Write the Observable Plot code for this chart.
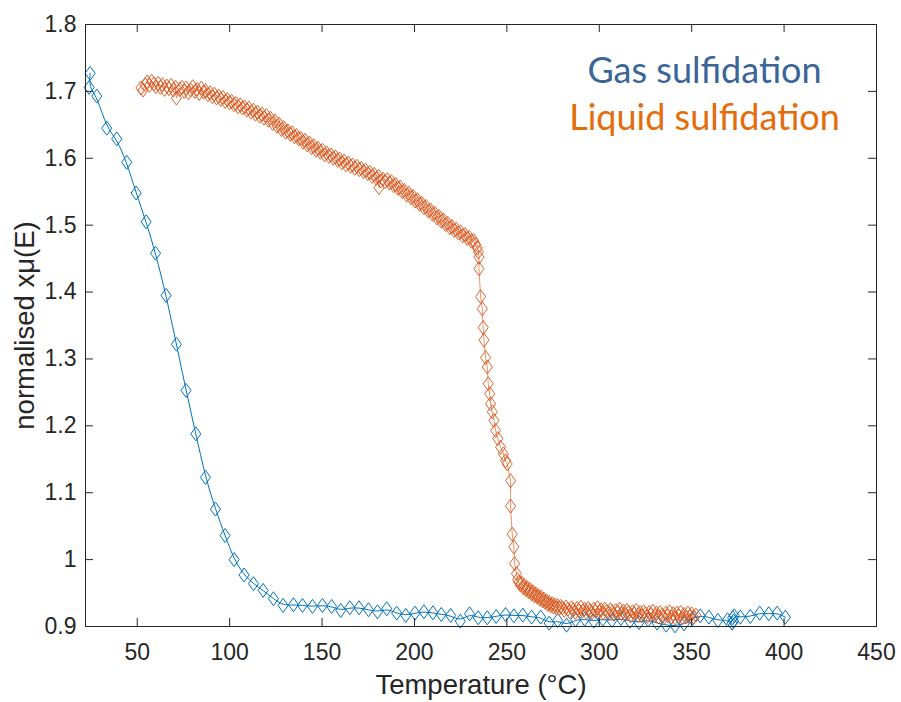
<!DOCTYPE html>
<html>
<head>
<meta charset="utf-8">
<script src="https://cdn.jsdelivr.net/npm/d3@7"></script>
<script src="https://cdn.jsdelivr.net/npm/@observablehq/plot@0.6"></script>
<style>
  html, body { margin: 0; padding: 0; background: #fff; }
  #chart svg { display: block; }
</style>
</head>
<body>
<div id="chart"></div>
<script>
// Gas sulfidation: temperature (°C) and normalised xμ(E)
const gasT = [24.5, 24.0, 28.1, 33.5, 38.9, 44.3, 49.4, 54.8, 59.9, 65.6, 71.2, 76.4, 81.7, 86.9, 92.3, 97.5,
  102.4, 107.8, 112.9, 118.1, 123.7, 128.9, 134.5, 139.4, 144.8, 150.2, 155.2, 160.1, 165.0, 170.0, 175.1,
  180.0, 185.0, 190.4, 195.3, 200.3, 205.1, 210.0, 214.5, 219.6, 224.8, 229.8, 234.5, 239.4, 244.2, 249.3,
  253.8, 258.6, 263.4, 268.3, 272.9, 277.5, 282.3, 287.2, 292.1, 297.0, 301.9, 306.8, 311.7, 316.6, 321.5,
  326.4, 331.3, 336.2, 341.0, 345.9, 350.4, 354.6, 359.3, 364.2, 369.4, 371.8, 372.2, 372.6, 373.0, 376.3,
  381.7, 386.8, 391.7, 396.2, 400.7];
const gasMu = [1.727, 1.706, 1.693, 1.645, 1.629, 1.594, 1.548, 1.505, 1.458, 1.395, 1.322, 1.253, 1.188, 1.123, 1.0755, 1.036,
  1.000, 0.977, 0.964, 0.954, 0.9415, 0.9315, 0.9325, 0.9315, 0.930, 0.9315, 0.930, 0.924, 0.928, 0.928, 0.925,
  0.922, 0.9265, 0.920, 0.9165, 0.920, 0.922, 0.9205, 0.918, 0.9165, 0.908, 0.919, 0.913, 0.913, 0.915, 0.918,
  0.916, 0.917, 0.914, 0.914, 0.905, 0.909, 0.902, 0.910, 0.911, 0.908, 0.911, 0.909, 0.912, 0.908, 0.906,
  0.910, 0.905, 0.902, 0.901, 0.904, 0.912, 0.916, 0.914, 0.909, 0.910, 0.905, 0.913, 0.908, 0.916, 0.914,
  0.915, 0.920, 0.919, 0.920, 0.914];

// Liquid sulfidation: temperature (°C) and normalised xμ(E)
const liqT = [52.0, 53.2, 54.3, 55.4, 56.6, 57.8, 59.0, 60.1, 61.3, 62.5, 63.6, 64.8, 66.0, 67.2, 68.3, 69.5,
  70.7, 71.2, 73.0, 74.2, 75.4, 76.5, 77.7, 78.9, 80.0, 81.2, 82.4, 83.5, 84.7, 85.9, 87.0, 88.2, 89.4, 90.6,
  91.7, 92.9, 94.1, 95.2, 96.4, 97.6, 98.8, 99.9, 101.1, 102.3, 103.4, 104.6, 105.8, 106.9, 108.1, 109.3,
  110.4, 111.6, 112.8, 114.0, 115.1, 116.3, 117.5, 118.6, 119.8, 121.0, 122.1, 123.3, 124.5, 125.6, 126.8,
  128.0, 129.2, 130.3, 131.5, 132.7, 133.8, 135.0, 136.2, 137.3, 138.5, 139.7, 140.8, 142.0, 143.2, 144.3,
  145.5, 146.7, 147.9, 149.0, 150.2, 151.4, 152.5, 153.7, 154.9, 156.0, 157.2, 158.4, 159.5, 160.7, 161.9,
  163.0, 164.2, 165.4, 166.6, 167.7, 168.9, 170.1, 171.2, 172.4, 173.6, 174.7, 175.9, 177.1, 178.2, 179.4,
  180.6, 180.8, 181.7, 182.9, 184.1, 185.3, 186.4, 187.6, 188.8, 189.9, 191.1, 192.3, 193.4, 194.6, 195.8,
  196.9, 198.1, 199.3, 200.4, 201.6, 202.8, 203.9, 205.1, 206.3, 207.5, 208.6, 209.8, 211.0, 212.1, 213.3,
  214.5, 215.6, 216.8, 218.0, 219.1, 220.3, 221.5, 222.6, 223.8, 225.0, 226.1, 227.3, 228.5, 229.6, 230.8,
  232.0, 233.1, 234.0, 234.6,
  234.9, 234.9, 235.8, 236.7, 237.2, 237.6, 238.5, 239.4, 239.9, 240.7, 241.2, 242.1, 243.0, 243.9, 245.1,
  246.6, 248.1, 249.3, 250.2, 252.0, 252.0, 252.9, 253.8, 254.2, 255.2,
  255.8, 256.5, 257.3, 258.0, 258.8, 259.5, 260.3, 261.0, 261.8, 262.5, 263.3, 264.0, 264.8, 265.5, 266.3,
  267.0, 267.8, 268.5, 269.3, 270.0, 270.8, 271.5, 272.3, 273.0, 273.8, 274.5, 275.3, 276.0, 276.8, 277.5,
  278.3, 279.0,
  280, 281, 282, 283, 284, 285, 286, 287, 288, 289, 290, 291, 292, 293, 294, 295, 296, 297, 298, 299,
  300, 301, 302, 303, 304, 305, 306, 307, 308, 309, 310, 311, 312, 313, 314, 315, 316, 317, 318, 319,
  320, 321, 322, 323, 324, 325, 326, 327, 328, 329, 330, 331, 332, 333, 334, 335, 336, 337, 338, 339,
  340, 341, 342, 343, 344, 345, 346, 347, 348, 349, 350, 351, 352.3];
const liqMu = [1.705, 1.702, 1.710, 1.714, 1.709, 1.715, 1.711, 1.707, 1.712, 1.706, 1.710, 1.703, 1.708, 1.704, 1.709, 1.702,
  1.706, 1.690, 1.703, 1.706, 1.700, 1.705, 1.698, 1.702, 1.707, 1.700, 1.703, 1.697, 1.705, 1.699, 1.701, 1.695, 1.698, 1.692,
  1.696, 1.690, 1.693, 1.688, 1.691, 1.685, 1.688, 1.683, 1.685, 1.680, 1.682, 1.677, 1.680, 1.675, 1.677, 1.672,
  1.675, 1.669, 1.672, 1.666, 1.669, 1.663, 1.666, 1.660, 1.664, 1.657, 1.660, 1.652, 1.656, 1.648, 1.651,
  1.643, 1.646, 1.639, 1.641, 1.636, 1.638, 1.632, 1.634, 1.629, 1.630, 1.624, 1.627, 1.620, 1.623, 1.616,
  1.619, 1.612, 1.615, 1.609, 1.612, 1.605, 1.608, 1.603, 1.605, 1.600, 1.602, 1.597, 1.599, 1.593, 1.596,
  1.590, 1.593, 1.588, 1.590, 1.585, 1.588, 1.583, 1.585, 1.580, 1.582, 1.577, 1.579, 1.573, 1.576, 1.570,
  1.573, 1.556, 1.566, 1.569, 1.565, 1.568, 1.563, 1.565, 1.559, 1.561, 1.555, 1.557, 1.550, 1.552, 1.545,
  1.548, 1.541, 1.543, 1.536, 1.538, 1.531, 1.533, 1.526, 1.528, 1.521, 1.523, 1.516, 1.518, 1.511, 1.513,
  1.506, 1.508, 1.501, 1.503, 1.496, 1.498, 1.492, 1.494, 1.488, 1.490, 1.484, 1.486, 1.480, 1.482, 1.476,
  1.477, 1.471, 1.466, 1.460,
  1.452, 1.435, 1.393, 1.375, 1.347, 1.328, 1.302, 1.288, 1.263, 1.248, 1.233, 1.221, 1.208, 1.193, 1.181,
  1.168, 1.158, 1.148, 1.143, 1.118, 1.080, 1.038, 1.019, 0.994, 0.979,
  0.970, 0.966, 0.962, 0.965, 0.958, 0.961, 0.955, 0.958, 0.952, 0.955, 0.949, 0.952, 0.946, 0.949, 0.944,
  0.946, 0.941, 0.944, 0.938, 0.941, 0.936, 0.938, 0.933, 0.936, 0.931, 0.934, 0.929, 0.932, 0.928, 0.931,
  0.927, 0.930,
  0.928, 0.924, 0.929, 0.926, 0.922, 0.928, 0.925, 0.921, 0.927, 0.924, 0.929, 0.923, 0.926, 0.921, 0.927, 0.924, 0.920, 0.926, 0.923, 0.928,
  0.922, 0.925, 0.920, 0.926, 0.923, 0.919, 0.925, 0.922, 0.918, 0.924, 0.921, 0.926, 0.919, 0.923, 0.918, 0.924, 0.921, 0.916, 0.922, 0.919,
  0.924, 0.917, 0.921, 0.916, 0.922, 0.919, 0.915, 0.921, 0.918, 0.923, 0.916, 0.920, 0.914, 0.921, 0.917, 0.913, 0.920, 0.916, 0.922, 0.914,
  0.919, 0.913, 0.920, 0.916, 0.921, 0.913, 0.918, 0.914, 0.920, 0.915, 0.919, 0.914, 0.917];

const xTicks = [50, 100, 150, 200, 250, 300, 350, 400, 450];
const yTicks = [0.9, 1.0, 1.1, 1.2, 1.3, 1.4, 1.5, 1.6, 1.7, 1.8];
const seriesNames = ["Gas sulfidation", "Liquid sulfidation"];

const gas = gasT.map((t, i) => ({t, mu: gasMu[i]}));
const liquid = liqT.map((t, i) => ({t, mu: liqMu[i]}));

const W = 901, H = 702;
const mL = 85, mR = 25, mT = 24, mB = 76;
const innerW = W - mL - mR, innerH = H - mT - mB;
const tickLen = 8;
const BLUE = "#0072BD", ORANGE = "#D95319", INK = "#262626";

// Diamond marker, taller than it is wide
const diamond = {
  draw(ctx, size) {
    const r = Math.sqrt(size / Math.PI);
    const w = r * 0.72;
    ctx.moveTo(0, -r);
    ctx.lineTo(w, 0);
    ctx.lineTo(0, r);
    ctx.lineTo(-w, 0);
    ctx.closePath();
  }
};

const chart = Plot.plot({
  width: W,
  height: H,
  marginLeft: mL,
  marginRight: mR,
  marginTop: mT,
  marginBottom: mB,
  x: {domain: [22, 450]},
  y: {domain: [0.9, 1.8]},
  style: {fontFamily: "'Liberation Sans', Arial, sans-serif", color: INK, background: "#fff"},
  marks: [
    // gas series
    Plot.line(gas, {x: "t", y: "mu", stroke: BLUE, strokeWidth: 1, curve: "basis"}),
    Plot.dot(gas, {x: "t", y: "mu", symbol: diamond, r: 7, stroke: BLUE, strokeWidth: 1, fill: "none"}),
    // liquid series
    Plot.line(liquid, {x: "t", y: "mu", stroke: ORANGE, strokeWidth: 0.8, strokeOpacity: 0.8}),
    Plot.dot(liquid, {x: "t", y: "mu", symbol: diamond, r: 7, stroke: ORANGE, strokeWidth: 0.9, fill: "none"}),
    // box
    Plot.frame({stroke: INK, strokeWidth: 1}),
    // inward ticks on all four sides
    Plot.tickX(xTicks, {x: d => d, insetTop: innerH - tickLen, stroke: INK}),
    Plot.tickX(xTicks, {x: d => d, insetBottom: innerH - tickLen, stroke: INK}),
    Plot.tickY(yTicks, {y: d => d, insetRight: innerW - tickLen, stroke: INK}),
    Plot.tickY(yTicks, {y: d => d, insetLeft: innerW - tickLen, stroke: INK}),
    // tick labels
    Plot.axisX(xTicks, {anchor: "bottom", tickSize: 0, tickPadding: 17, fontSize: 23, label: null, tickFormat: d => String(d)}),
    Plot.axisY(yTicks, {anchor: "left", tickSize: 0, tickPadding: 9, fontSize: 23, label: null, tickFormat: d => String(d)}),
    // axis titles
    Plot.text(["Temperature (°C)"], {text: d => d, frameAnchor: "bottom", dy: 67, lineAnchor: "bottom", textAnchor: "middle", fontSize: 27.5, fill: INK}),
    Plot.text(["normalised xμ(E)"], {text: d => d, frameAnchor: "left", dx: -52, rotate: -90, lineAnchor: "bottom", textAnchor: "middle", fontSize: 27.5, fill: INK}),
    // series labels
    Plot.text([seriesNames[0]], {text: d => d, frameAnchor: "top-right", dx: -172, dy: 58.4, lineAnchor: "bottom", textAnchor: "middle", fontSize: 36, fontFamily: "Lato", fill: "#3A6598"}),
    Plot.text([seriesNames[1]], {text: d => d, frameAnchor: "top-right", dx: -172, dy: 105.7, lineAnchor: "bottom", textAnchor: "middle", fontSize: 36, fontFamily: "Lato", fill: "#E46C0A"})
  ]
});

document.getElementById("chart").append(chart);
</script>
</body>
</html>
